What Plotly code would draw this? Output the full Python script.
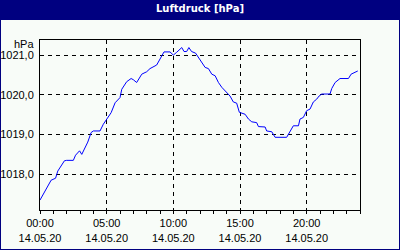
import plotly.graph_objects as go

# ---- data ----
times = ["00:00","00:25","00:50","01:10","01:20","01:50","02:00","02:30","02:40","02:58",
         "03:08","03:35","03:50","04:00","04:30","04:45","05:05","05:20","05:38","06:00",
         "06:08","06:30","06:50","07:00","07:15","07:38","08:00","08:15","08:45","09:00",
         "09:18","09:45","10:00","10:15","10:38","10:48","11:00","11:10","11:22","11:40",
         "11:53","12:08","12:23","12:38","12:53","13:08","13:23","13:38","14:00","14:15",
         "14:30","14:45","14:57","15:23","15:38","15:53","16:15","16:23","16:53","17:00",
         "17:23","17:38","18:30","18:45","19:00","19:23","19:30","19:45","20:00","20:15",
         "20:30","20:45","20:56","21:08","21:45","21:53","22:08","22:30","23:08","23:20",
         "23:35","23:50"]
pressure = [1017.35,1017.62,1017.85,1017.9,1018.08,1018.34,1018.35,1018.35,1018.48,1018.59,
            1018.5,1018.81,1019.05,1019.09,1019.09,1019.26,1019.42,1019.55,1019.8,1019.93,
            1020.14,1020.33,1020.41,1020.38,1020.31,1020.52,1020.58,1020.66,1020.75,1020.9,
            1021.08,1021.08,1021.0,1021.07,1021.19,1021.09,1021.09,1021.19,1021.09,1021.05,
            1020.94,1020.8,1020.69,1020.66,1020.52,1020.48,1020.31,1020.19,1020.06,1019.97,
            1019.82,1019.79,1019.56,1019.51,1019.39,1019.32,1019.3,1019.2,1019.19,1019.09,
            1019.07,1018.93,1018.93,1019.09,1019.22,1019.22,1019.39,1019.43,1019.6,1019.64,
            1019.82,1019.89,1019.97,1020.02,1020.02,1020.16,1020.31,1020.41,1020.41,1020.52,
            1020.55,1020.6]
date = "2020-05-14"
x_tick_vals = ["00:00","05:00","10:00","15:00","20:00"]
x_tick_date = "14.05.20"
y_tick_vals = [1018.0, 1019.0, 1020.0, 1021.0]
y_tick_text = ["1018,0", "1019,0", "1020,0", "1021,0"]
title = "Luftdruck [hPa]"
unit = "hPa"

xs = [f"{date} {t}" for t in times]

FONT = "Liberation Sans Narrow, Liberation Sans, Arial"
NAVY = "#000080"
BG = "#f8fcf8"

fig = go.Figure()
fig.add_trace(go.Scatter(x=xs, y=pressure, mode="lines",
                         line=dict(color="#0000ff", width=1), hoverinfo="skip"))

fig.update_layout(
    width=400, height=250,
    margin=dict(l=40, r=40, t=40, b=40),
    paper_bgcolor=BG, plot_bgcolor=BG,
    showlegend=False,
    font=dict(family=FONT, size=11, color="black"),
    xaxis=dict(
        type="date", automargin=False,
        range=[f"{date} 00:00", "2020-05-15 00:00"],
        tickvals=[f"{date} {t}" for t in x_tick_vals],
        ticktext=[f"{t}<br>{x_tick_date}" for t in x_tick_vals],
        ticks="outside", ticklen=3, tickcolor="black", tickwidth=1,
        ticklabelstandoff=0,
        showline=True, linecolor="black", linewidth=1, mirror=True,
        showgrid=True, gridcolor="black", gridwidth=1, griddash="4px,4px",
        zeroline=False,
        minor=dict(dtick=3600000, ticks="outside", ticklen=3, tickcolor="black",
                   showgrid=False),
        tickfont=dict(family=FONT, size=11, color="black"),
    ),
    yaxis=dict(
        automargin=False,
        range=[1017.1, 1021.38],
        tickvals=y_tick_vals, ticktext=y_tick_text,
        ticks="",
        ticklabelstandoff=3,
        showline=True, linecolor="black", linewidth=1, mirror=True,
        showgrid=True, gridcolor="black", gridwidth=1, griddash="4px,4px",
        zeroline=False,
        tickfont=dict(family=FONT, size=11, color="black"),
    ),
)

# title bar and frame
fig.add_shape(type="rect", xref="paper", yref="paper",
              x0=-0.125, x1=1.125, y0=190/170, y1=1.2353,
              fillcolor=NAVY, line=dict(width=0), layer="below")
fig.add_shape(type="rect", xref="paper", yref="paper",
              x0=-0.125, x1=1.125, y0=-40/170, y1=1.2353,
              fillcolor="rgba(0,0,0,0)", line=dict(color=NAVY, width=2))
fig.add_annotation(text=f"<b>{title}</b>", xref="paper", yref="paper",
                   x=0.5, y=(210-9)/170, showarrow=False,
                   font=dict(family="DejaVu Sans", size=10, color="white"),
                   xanchor="center", yanchor="middle")
fig.add_annotation(text=unit, xref="paper", yref="paper",
                   x=-4/320, y=(210-44)/170, showarrow=False,
                   font=dict(family=FONT, size=11, color="black"),
                   xanchor="right", yanchor="middle")

fig.write_html("out.html")
